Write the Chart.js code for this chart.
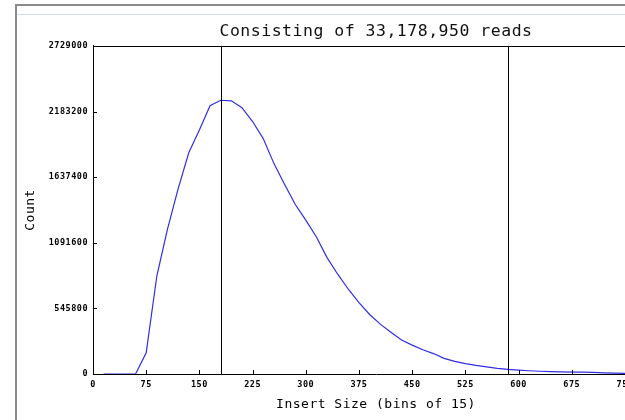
<!DOCTYPE html>
<html>
<head>
<meta charset="utf-8">
<script src="https://cdn.jsdelivr.net/npm/chart.js@4/dist/chart.umd.min.js"></script>
<style>
  html, body { margin: 0; padding: 0; overflow: hidden; background: #fff; width: 625px; height: 420px; }
  #frame { position: absolute; left: 15px; top: 4px; width: 700px; height: 500px;
           border-left: 2px solid #8a8a8a; border-top: 2px solid #8a8a8a; }
  #frame .bar { position: absolute; left: 0; right: 0; top: 8px; border-top: 1px solid #d3dbe3; }
  #wrap { position: absolute; left: 0; top: 0; width: 720px; height: 420px; }
</style>
</head>
<body>
<div id="frame"><div class="bar"></div></div>
<div id="wrap"><canvas id="insertChart" width="720" height="420"></canvas></div>
<script>
// insert size bins (bins of 15) and read counts per bin
const insertSizes = [15, 30, 45, 60, 75, 90, 105, 120, 135, 150, 165, 180, 195, 210, 225, 240, 255, 270,
    285, 300, 315, 330, 345, 360, 375, 390, 405, 420, 435, 450, 465, 480, 495, 510, 525, 540, 555, 570,
    585, 600, 615, 630, 645, 660, 675, 690, 705, 720, 735, 750, 765, 780, 795];
const readCounts = [0, 0, 0, 0, 177000, 815000, 1205000, 1540000, 1840000, 2030000, 2232000, 2277000,
    2272000, 2215000, 2100000, 1958000, 1752000, 1578000, 1412000, 1280000, 1140000, 968000, 830000,
    705000, 593000, 495000, 415000, 348000, 282000, 240000, 202000, 170000, 130000, 105000, 86000,
    71000, 59000, 47000, 38000, 32000, 27000, 23000, 20000, 18000, 16000, 15000, 13000, 10000, 7000,
    5000, 3000, 2000, 1000];
const markerLines = [181, 585];   // svislé čáry
const yTicks = [0, 545800, 1091600, 1637400, 2183200, 2729000];
const xStep = 75;

const mono = 'DejaVu Sans Mono';

// ticks pointing inward, top border and the two vertical markers
const frameLines = {
    id: 'frameLines',
    beforeDraw(chart) { chart.ctx.letterSpacing = '0.5px'; },
    afterDatasetsDraw(chart) {
        const { ctx, chartArea: a, scales: { x, y } } = chart;
        ctx.save();
        ctx.strokeStyle = '#000';
        ctx.lineWidth = 1;
        ctx.beginPath();
        ctx.moveTo(a.left, Math.round(a.top) + 0.5);
        ctx.lineTo(a.right, Math.round(a.top) + 0.5);
        markerLines.forEach(v => {
            const px = Math.round(x.getPixelForValue(v)) + 0.5;
            ctx.moveTo(px, a.top);
            ctx.lineTo(px, a.bottom);
        });
        x.ticks.forEach(t => {
            const px = Math.round(x.getPixelForValue(t.value)) + 0.5;
            ctx.moveTo(px, a.bottom);
            ctx.lineTo(px, a.bottom - 4);
        });
        y.ticks.forEach(t => {
            const py = Math.round(y.getPixelForValue(t.value)) + 0.5;
            ctx.moveTo(a.left, py);
            ctx.lineTo(a.left + 4, py);
        });
        ctx.stroke();
        ctx.restore();
    }
};

new Chart(document.getElementById('insertChart').getContext('2d'), {
    type: 'line',
    data: {
        datasets: [{
            data: insertSizes.map((v, i) => ({ x: v, y: readCounts[i] })),
            borderColor: '#2f2fe6',
            borderWidth: 1.2,
            pointRadius: 0,
            tension: 0,
            fill: false
        }]
    },
    options: {
        responsive: false,
        animation: false,
        layout: { padding: { left: 0, right: 61, top: 0, bottom: 0 } },
        scales: {
            x: {
                type: 'linear',
                min: 0,
                max: 798,
                afterFit: s => { s.height = 46; },
                grid: { drawOnChartArea: false, drawTicks: false },
                border: { color: '#000', width: 1 },
                ticks: {
                    stepSize: xStep,
                    includeBounds: false,
                    maxRotation: 0,
                    autoSkip: false,
                    padding: 6,
                    color: '#000',
                    font: { family: mono, size: 8.5, weight: 'bold' }
                },
                title: {
                    display: true,
                    text: 'Insert Size (bins of 15)',
                    color: '#000',
                    padding: { top: 0, bottom: 8 },
                    font: { family: mono, size: 13 }
                }
            },
            y: {
                min: 0,
                max: 2729000,
                afterFit: s => { s.width = 93; },
                afterBuildTicks: s => { s.ticks = yTicks.map(v => ({ value: v })); },
                grid: { drawOnChartArea: false, drawTicks: false },
                border: { color: '#000', width: 1 },
                ticks: {
                    padding: 5,
                    color: '#000',
                    callback: v => String(v),
                    font: { family: mono, size: 8.5, weight: 'bold' }
                },
                title: {
                    display: true,
                    text: 'Count',
                    color: '#000',
                    padding: { top: 23, bottom: 0 },
                    font: { family: mono, size: 13 }
                }
            }
        },
        plugins: {
            legend: { display: false },
            tooltip: { enabled: false },
            title: {
                display: true,
                fullSize: false,
                text: 'Consisting of 33,178,950 reads',
                color: '#111',
                padding: { top: 22, bottom: 4.1 },
                font: { family: mono, size: 16.5, weight: 'normal' }
            }
        }
    },
    plugins: [frameLines]
});
</script>
</body>
</html>
